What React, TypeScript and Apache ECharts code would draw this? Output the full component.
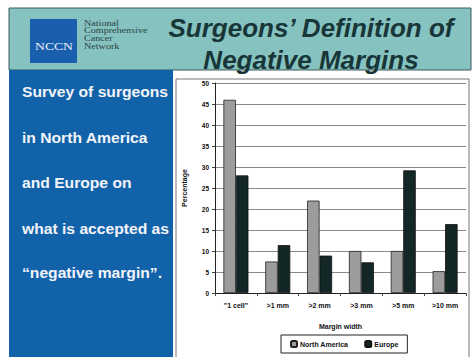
import React, { useEffect, useRef } from "react";
import * as echarts from "echarts";

const categories = ['"1 cell"', ">1 mm", ">2 mm", ">3 mm", ">5 mm", ">10 mm"];
const northAmerica = [46, 7.5, 22, 10, 10, 5.2];
const europe = [28, 11.4, 8.9, 7.3, 29.2, 16.4];
const seriesNames = ["North America", "Europe"];
const titleLines = ["Surgeons\u2019 Definition of", "Negative Margins"];
const sideLines = [
  "Survey of surgeons",
  "in North America",
  "and Europe on",
  "what is accepted as",
  "\u201cnegative margin\u201d.",
];
const logoLines = ["National", "Comprehensive", "Cancer", "Network"];

const FONT = 'Arial, "Liberation Sans", sans-serif';

export default function App() {
  const ref = useRef<HTMLDivElement>(null);
  useEffect(() => {
    if (!ref.current) return;
    const chart = echarts.init(ref.current, undefined, { renderer: "svg" });
    const sideY = [92, 138, 183, 229, 273];
    const graphic: any[] = [
      { type: "rect", z: 0, shape: { x: 9, y: 8, width: 462, height: 62 }, style: { fill: "#86c2bf", stroke: "#3c5a5a", lineWidth: 1 } },
      { type: "rect", z: 1, shape: { x: 30, y: 19, width: 47, height: 44 }, style: { fill: "#1a5fae" } },
      { type: "text", z: 2, x: 54, y: 47, scaleX: 1.3, style: { text: "NCCN", fill: "#e8eef8", font: '10.5px "Liberation Serif", serif', textAlign: "center", textVerticalAlign: "middle" } },
      ...logoLines.map((t, i) => ({
        type: "text", z: 2, x: 84, y: 23 + i * 7.7, scaleX: 1.35,
        style: { text: t, fill: "#2a4444", font: '7.5px "Liberation Serif", serif', textVerticalAlign: "middle" },
      })),
      ...titleLines.map((t, i) => ({
        type: "text", z: 2, x: 311, y: 28 + i * 32,
        style: { text: t, fill: "#183638", font: `italic bold 26px ${FONT}`, textAlign: "center", textVerticalAlign: "middle" },
      })),
      { type: "rect", z: 0, shape: { x: 9, y: 70, width: 164, height: 290 }, style: { fill: "#1262aa" } },
      ...sideLines.map((t, i) => ({
        type: "text", z: 2, x: 22, y: sideY[i], scaleX: 1.08,
        style: { text: t, fill: "#f2f4f8", font: `bold 14.5px ${FONT}`, textVerticalAlign: "middle" },
      })),
      { type: "rect", z: 0, shape: { x: 176, y: 79, width: 293, height: 285 }, style: { fill: "#ffffff", stroke: "#777", lineWidth: 1 } },
    ];

    chart.setOption({
      animation: false,
      backgroundColor: "#ffffff",
      graphic,
      grid: { left: 215, top: 83, right: 9, bottom: 64, show: true, borderColor: "#666", borderWidth: 1, backgroundColor: "transparent" },
      legend: {
        data: seriesNames,
        left: 281,
        top: 335,
        orient: "horizontal",
        itemWidth: 6,
        itemHeight: 6,
        itemGap: 16,
        padding: [5, 9],
        borderColor: "#222",
        borderWidth: 1,
        backgroundColor: "#fff",
        textStyle: { fontFamily: FONT, fontSize: 7, fontWeight: "bold", color: "#111", padding: [0, 0, 0, -2] },
      },
      xAxis: {
        type: "category",
        data: categories,
        name: "Margin width",
        nameLocation: "middle",
        nameGap: 30,
        nameTextStyle: { fontFamily: FONT, fontSize: 7, fontWeight: "bold", color: "#111" },
        axisLine: { lineStyle: { color: "#222", width: 1 } },
        axisTick: { show: true, length: 3, lineStyle: { color: "#444" } },
        axisLabel: { fontFamily: FONT, fontSize: 7, fontWeight: "bold", color: "#111", margin: 9 },
      },
      yAxis: {
        type: "value",
        min: 0,
        max: 50,
        interval: 5,
        name: "Percentage",
        nameLocation: "middle",
        nameGap: 27,
        nameTextStyle: { fontFamily: FONT, fontSize: 7, fontWeight: "bold", color: "#111" },
        axisLine: { show: true, lineStyle: { color: "#222", width: 1 } },
        axisTick: { show: true, length: 3, lineStyle: { color: "#444" } },
        axisLabel: { fontFamily: FONT, fontSize: 6.5, fontWeight: "bold", color: "#111", margin: 6 },
        splitLine: { lineStyle: { color: "#8a8a8a", width: 1 } },
      },
      series: [
        {
          name: seriesNames[0],
          type: "bar",
          data: northAmerica,
          barWidth: 12.5,
          barGap: "0%",
          itemStyle: { color: "#9c9c9c", borderColor: "#222", borderWidth: 0.8 },
        },
        {
          name: seriesNames[1],
          type: "bar",
          data: europe,
          barWidth: 12.5,
          barGap: "0%",
          itemStyle: { color: "#132727", borderColor: "#111", borderWidth: 0.8 },
        },
      ],
    });
    return () => chart.dispose();
  }, []);
  return (
    <div style={{ position: "fixed", left: 0, top: 0, width: 475, height: 357, background: "#fff" }}>
      <div ref={ref} style={{ width: 475, height: 357 }} />
    </div>
  );
}
